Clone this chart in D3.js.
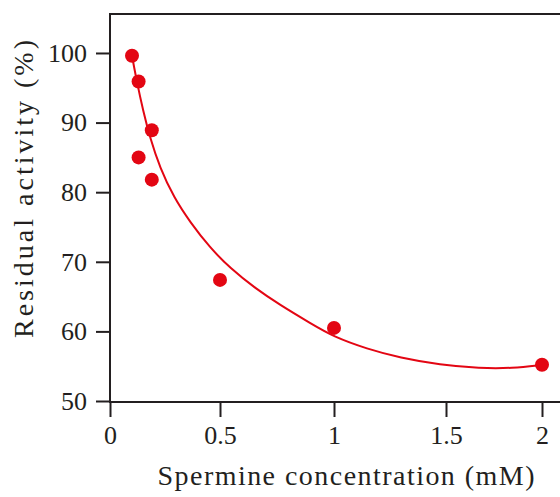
<!DOCTYPE html>
<html>
<head>
<meta charset="utf-8">
<script src="https://cdn.jsdelivr.net/npm/d3@7"></script>
<style>
  body { margin: 0; background: #fff; }
  svg text { font-family: "Liberation Serif", "Times New Roman", serif; fill: #231f20; }
</style>
</head>
<body>
<div id="chart"></div>
<script>
// measured points
var concentration = [0.1, 0.13, 0.19, 0.13, 0.19, 0.5, 1, 2];
var activity = [99.6, 95.9, 88.9, 85.0, 81.8, 67.4, 60.5, 55.2];

// fitted curve
var fitX = [0.1, 0.123, 0.15, 0.182, 0.227, 0.291, 0.364, 0.455, 0.544, 0.654, 0.763, 0.895, 1, 1.147, 1.295, 1.473, 1.677, 1.844, 2];
var fitY = [99.6, 95.7, 91.8, 87.8, 83.5, 79.2, 75.7, 72.0, 69.1, 66.2, 63.8, 61.2, 59.2, 57.5, 56.2, 55.2, 54.7, 54.7, 55.2];

var xTicks = [0, 0.5, 1, 1.5, 2];
var yTicks = [50, 60, 70, 80, 90, 100];

var width = 560, height = 497;
var red = "#e30613", ink = "#231f20";

var svg = d3.select("#chart").append("svg")
    .attr("width", width)
    .attr("height", height);

// the source figure spaces its x ticks unevenly, so keep that
var x = d3.scaleLinear()
    .domain([0, 0.5, 1, 1.5, 2])
    .range([110, 220, 334, 446, 542]);

var y = d3.scaleLinear()
    .domain([50, 105.6])
    .range([401, 14]);

/**
 * axes
 */
var xAxis = svg.append("g")
    .attr("transform", "translate(0,402)")
    .call(d3.axisBottom(x).tickValues(xTicks).tickSizeInner(15).tickSizeOuter(0).tickPadding(9)
        .tickFormat(function (d) { return d; }));
xAxis.select(".domain").remove();

var yAxis = svg.append("g")
    .attr("transform", "translate(110,0)")
    .call(d3.axisLeft(y).tickValues(yTicks).tickSizeInner(14).tickSizeOuter(0).tickPadding(9));
yAxis.select(".domain").remove();

svg.selectAll(".tick line").attr("stroke", ink).attr("stroke-width", 2);
svg.selectAll(".tick text").style("font-size", "26px").attr("fill", ink);

// frame: left, bottom, top
svg.append("line")
    .attr("x1", 110).attr("x2", 110)
    .attr("y1", y.range()[1]).attr("y2", 402)
    .attr("stroke", ink).attr("stroke-width", 2);
svg.append("line")
    .attr("x1", 109).attr("x2", width)
    .attr("y1", 402).attr("y2", 402)
    .attr("stroke", ink).attr("stroke-width", 2);
svg.append("line")
    .attr("x1", 109).attr("x2", width)
    .attr("y1", y.range()[1]).attr("y2", y.range()[1])
    .attr("stroke", ink).attr("stroke-width", 2);

/**
 * fitted curve
 */
var fit = fitX.map(function (d, i) { return {x: d, y: fitY[i]}; });

var line = d3.line()
    .x(function (d) { return x(d.x); })
    .y(function (d) { return y(d.y); })
    .curve(d3.curveBasis);

svg.append("path")
    .datum(fit)
    .attr("d", line)
    .attr("fill", "none")
    .attr("stroke", red)
    .attr("stroke-width", 2);

/**
 * dots
 */
var points = concentration.map(function (d, i) { return {x: d, y: activity[i]}; });

svg.selectAll(".dot")
    .data(points)
    .enter().append("circle")
    .attr("class", "dot")
    .attr("cx", function (d) { return x(d.x); })
    .attr("cy", function (d) { return y(d.y); })
    .attr("r", 7)
    .attr("fill", red);

/**
 * axis titles
 */
svg.append("text")
    .attr("x", 346)
    .attr("y", 485)
    .attr("text-anchor", "middle")
    .attr("textLength", 377)
    .attr("lengthAdjust", "spacing")
    .style("font-size", "28px")
    .text("Spermine concentration (mM)");

svg.append("text")
    .attr("transform", "translate(33,189) rotate(-90)")
    .attr("text-anchor", "middle")
    .attr("textLength", 298)
    .attr("lengthAdjust", "spacing")
    .style("font-size", "28px")
    .text("Residual activity (%)");
</script>
</body>
</html>
